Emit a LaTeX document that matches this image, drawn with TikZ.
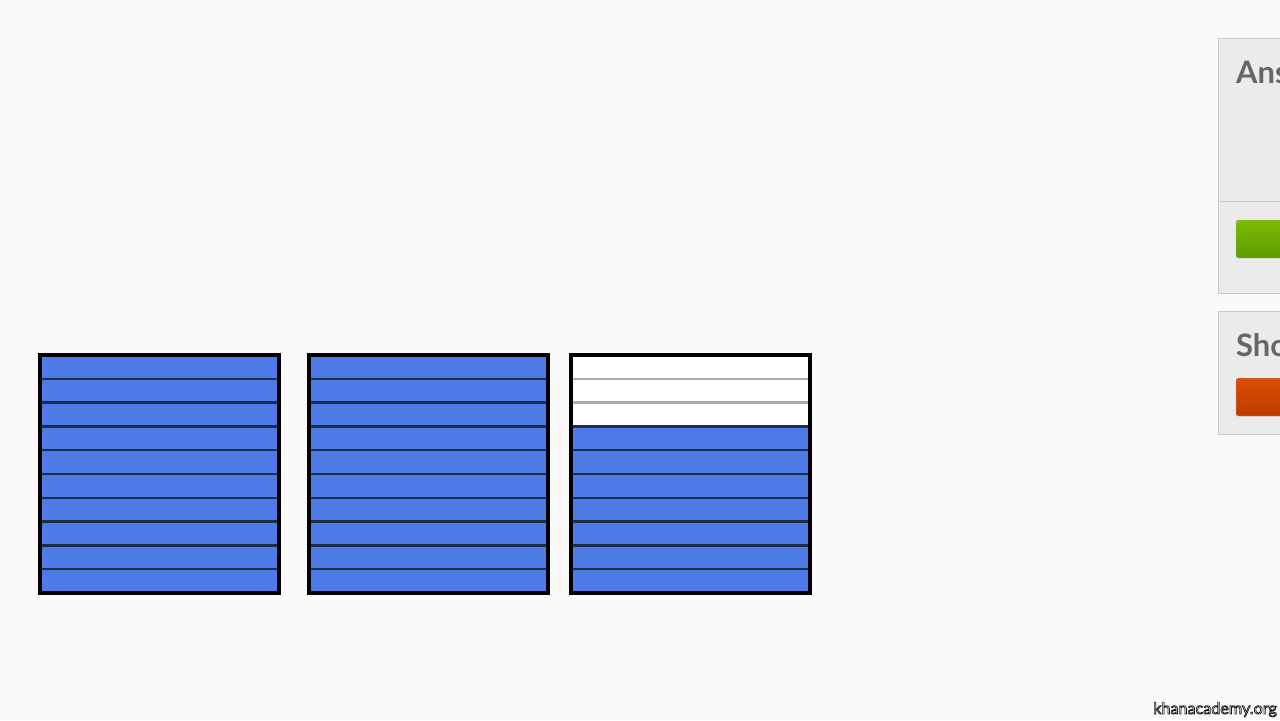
\documentclass[tikz,border=0pt]{standalone}
\usepackage{fontspec}
\setmainfont{Lato}
\usetikzlibrary{positioning}
\definecolor{paper}{HTML}{FAFAFA}
\definecolor{strip}{HTML}{4E7BE7}
\definecolor{seam}{HTML}{1F2D4A}
\definecolor{blankseam}{HTML}{ABABAB}
\definecolor{panel}{HTML}{EBEBEB}
\definecolor{panelrule}{HTML}{C9C9C9}
\definecolor{heading}{HTML}{666666}
\definecolor{checktop}{HTML}{7DBB04}
\definecolor{checkbot}{HTML}{5C9A00}
\definecolor{hinttop}{HTML}{D94E02}
\definecolor{hintbot}{HTML}{BF3B00}

\begin{document}
\begin{tikzpicture}[
  x=.05cm, y=-.05cm,
  square/.style={draw=black,line width=4.8pt,minimum width=11.95cm,minimum height=11.9cm,inner sep=0pt,outer sep=0pt},
  seamline/.style={draw=seam,line width=3.4pt},
  blankline/.style={draw=blankseam,line width=3.4pt},
  panelbox/.style={draw=panelrule,fill=panel,line width=1pt},
  heading/.style={font=\fontsize{44}{44}\selectfont\bfseries,text=heading,inner sep=0pt},
  button/.style={rounded corners=3pt,draw=black!25,line width=.6pt},
]
\clip (0,0) rectangle (1280,720);
\fill[paper] (0,0) rectangle (1280,720);

% ten tenths in each square
\foreach \l in {40,309,571}
  \fill[strip] (\l,355) rectangle ++(239,238);
\fill[white] (571,355) rectangle (810,426.4);
\foreach \l in {40,309,571}
  \foreach \k in {1,...,9}
    \draw[seamline] (\l,355+23.8*\k) -- ++(239,0);
\foreach \k in {1,2}
  \draw[blankline] (571,355+23.8*\k) -- ++(239,0);
\foreach \c/\id in {159.5/first,428.5/second,690.5/third}
  \node[square] (\id) at (\c,474) {};

% answer panel, cut by the frame
\draw[panelbox] (1218,38) rectangle (1300,293);
\draw[panelrule,line width=1pt] (1218,201) -- (1300,201);
\node[heading,anchor=base west] (answer) at (1236,83) {Ans};
\shade[button,top color=checktop,bottom color=checkbot] (1236,220) rectangle (1300,258);

\draw[panelbox] (1218,311) rectangle (1300,434);
\node[heading,anchor=base west] (show) at (1236,356) {Sho};
\shade[button,top color=hinttop,bottom color=hintbot] (1236,378) rectangle (1300,416);

\node[anchor=base east,inner sep=0pt,font=\fontsize{23}{23}\selectfont] (site) at (1277,714)
  {\color{white}\special{pdf:literal direct 2 Tr 1 w 0.1 0.1 0.1 RG}khanacademy.org\special{pdf:literal direct 0 Tr}};
\end{tikzpicture}
\end{document}
